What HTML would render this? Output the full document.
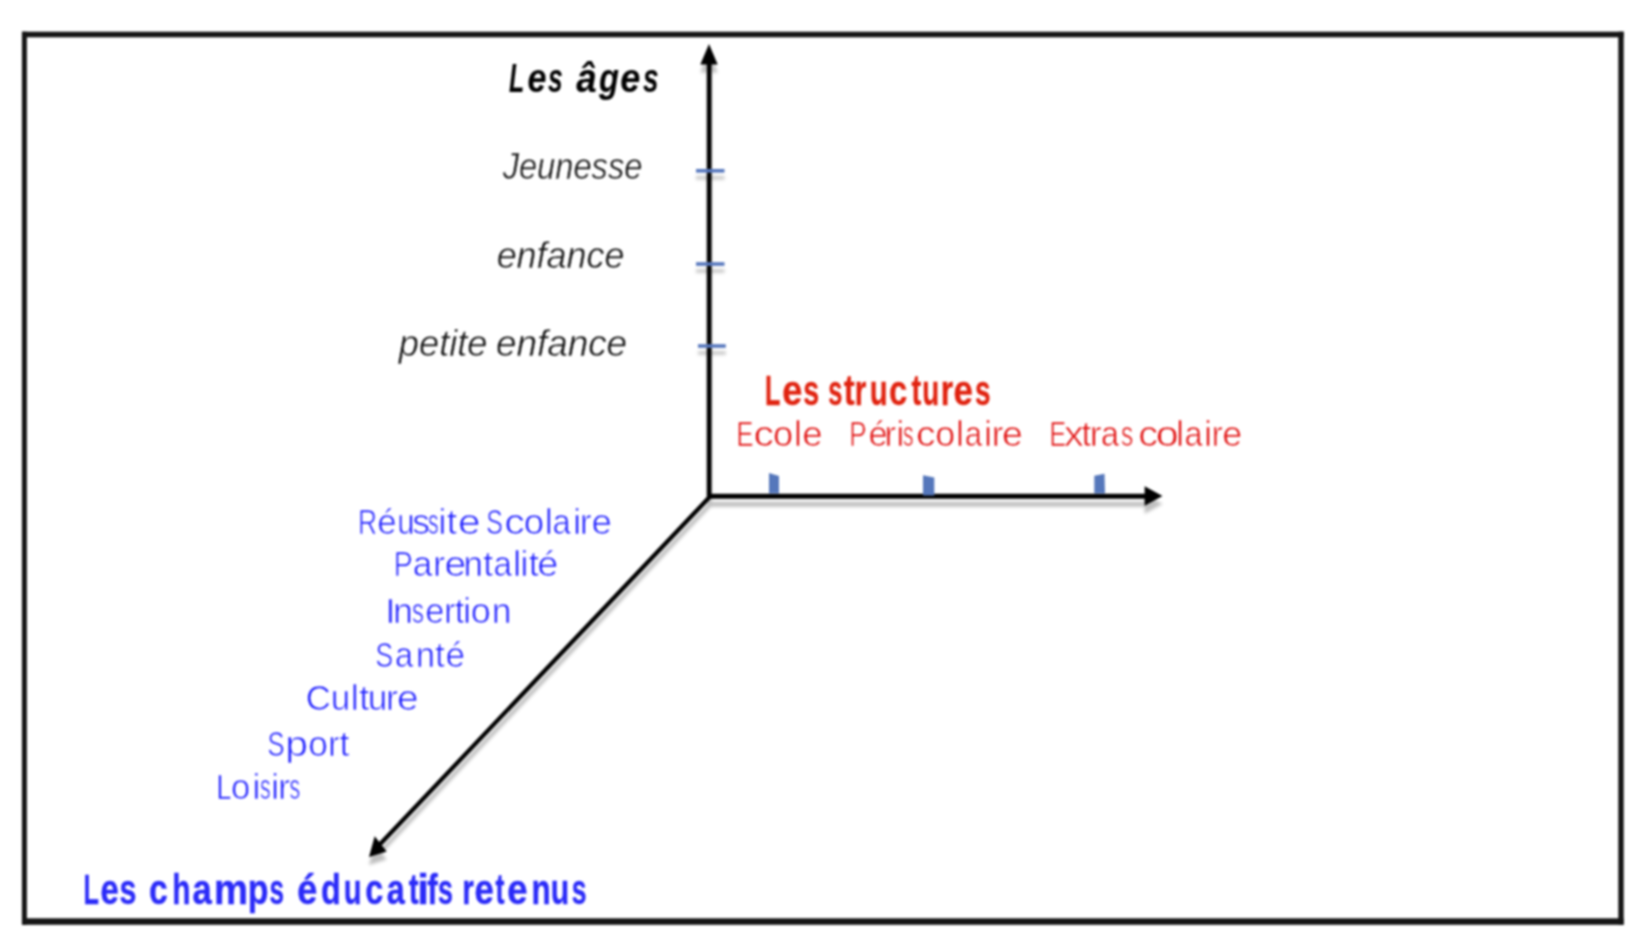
<!DOCTYPE html>
<html>
<head>
<meta charset="utf-8">
<style>
html,body{margin:0;padding:0;background:#fff;}
body{width:1630px;height:938px;overflow:hidden;position:relative;font-family:"Liberation Sans",sans-serif;}
svg{display:block;position:absolute;left:0;top:0;}
#shapes{filter:blur(1px);}
#texts{filter:blur(1px);}
text{font-family:"Liberation Sans",sans-serif;}
</style>
</head>
<body>
<svg id="shapes" width="1630" height="938" viewBox="0 0 1630 938">

<defs>
<filter id="sh" x="-20%" y="-20%" width="140%" height="160%">
<feGaussianBlur in="SourceAlpha" stdDeviation="1.8" result="b"/>
<feOffset in="b" dx="0" dy="8" result="o"/>
<feFlood flood-color="#000" flood-opacity="0.25"/>
<feComposite in2="o" operator="in" result="s"/>
<feMerge><feMergeNode in="s"/><feMergeNode in="SourceGraphic"/></feMerge>
</filter>
</defs>
<g fill="#151515">
<rect x="22" y="31.7" width="1601.7" height="5.6"/>
<rect x="22" y="918.3" width="1601.7" height="6.5"/>
<rect x="21.9" y="31.7" width="5" height="893"/>
<rect x="1618.3" y="31.7" width="5.4" height="893"/>
</g>
<g filter="url(#sh)">
<line x1="709.2" y1="496" x2="709.2" y2="62" stroke="#000" stroke-width="4.7"/>
<polygon points="709,44 700.3,64.5 717.7,64.5" fill="#000"/>
<line x1="707" y1="496.3" x2="1146" y2="496.3" stroke="#000" stroke-width="5"/>
<polygon points="1162.5,496 1144.6,486.3 1144.6,505.7" fill="#000"/>
<line x1="710.3" y1="496.3" x2="380.2" y2="844" stroke="#000" stroke-width="4.2"/>
<polygon points="369,857 374.7,836.3 386.7,851.6" fill="#000"/>
</g>
<filter id="sh2" x="-20%" y="-100%" width="140%" height="400%">
<feGaussianBlur in="SourceAlpha" stdDeviation="1.5" result="b"/>
<feOffset in="b" dx="0" dy="7" result="o"/>
<feFlood flood-color="#000" flood-opacity="0.22"/>
<feComposite in2="o" operator="in" result="s"/>
<feMerge><feMergeNode in="s"/><feMergeNode in="SourceGraphic"/></feMerge>
</filter>
<g filter="url(#sh2)" stroke="#5677bd" stroke-width="3.6">
<line x1="696" y1="170.8" x2="724.5" y2="170.8"/>
<line x1="696" y1="264" x2="724.5" y2="264"/>
<line x1="698" y1="346" x2="725.8" y2="346"/>
</g>
<g fill="#5577bb">
<polygon points="769,473.1 779,476 779,493.5 769,493.5"/>
<polygon points="923,475.3 934.3,477.5 934.3,495.5 923,495.5"/>
<polygon points="1094.3,475.7 1104.5,473.8 1105,493.5 1094.3,493.5"/>
</g>

</svg>
<svg id="texts" width="1630" height="938" viewBox="0 0 1630 938">
<g font-size="41" font-weight="bold" font-style="italic" fill="#000" stroke="#000" stroke-width="0.1">
<text x="509.01" y="91.50" textLength="15.26" lengthAdjust="spacingAndGlyphs">L</text>
<text x="527.60" y="91.50" textLength="18.93" lengthAdjust="spacingAndGlyphs">e</text>
<text x="547.94" y="91.50" textLength="14.70" lengthAdjust="spacingAndGlyphs">s</text>
<text x="576.24" y="91.50" textLength="20.43" lengthAdjust="spacingAndGlyphs">â</text>
<text x="599.03" y="91.50" textLength="19.95" lengthAdjust="spacingAndGlyphs">g</text>
<text x="620.13" y="91.50" textLength="20.03" lengthAdjust="spacingAndGlyphs">e</text>
<text x="642.88" y="91.50" textLength="15.58" lengthAdjust="spacingAndGlyphs">s</text>
</g>
<g font-size="36" font-weight="normal" font-style="italic" fill="#111" stroke="#fff" stroke-width="0.5">
<text x="502.64" y="179.30" textLength="139.80" lengthAdjust="spacingAndGlyphs">Jeunesse</text>
<text x="496.65" y="267.50" textLength="127.70" lengthAdjust="spacingAndGlyphs">enfance</text>
<text x="398.83" y="356.00" textLength="88.72" lengthAdjust="spacingAndGlyphs">petite</text>
<text x="495.93" y="356.00" textLength="131.18" lengthAdjust="spacingAndGlyphs">enfance</text>
</g>
<g font-size="42" font-weight="bold" fill="#e0220f" stroke="#e0220f" stroke-width="0.3">
<text x="765.11" y="405.00" textLength="15.39" lengthAdjust="spacingAndGlyphs">L</text>
<text x="782.31" y="405.00" textLength="20.05" lengthAdjust="spacingAndGlyphs">e</text>
<text x="803.24" y="405.00" textLength="15.97" lengthAdjust="spacingAndGlyphs">s</text>
<text x="828.36" y="405.00" textLength="14.15" lengthAdjust="spacingAndGlyphs">s</text>
<text x="843.83" y="405.00" textLength="10.95" lengthAdjust="spacingAndGlyphs">t</text>
<text x="854.66" y="405.00" textLength="11.57" lengthAdjust="spacingAndGlyphs">r</text>
<text x="869.77" y="405.00" textLength="17.94" lengthAdjust="spacingAndGlyphs">u</text>
<text x="889.12" y="405.00" textLength="18.29" lengthAdjust="spacingAndGlyphs">c</text>
<text x="911.51" y="405.00" textLength="9.79" lengthAdjust="spacingAndGlyphs">t</text>
<text x="922.21" y="405.00" textLength="16.94" lengthAdjust="spacingAndGlyphs">u</text>
<text x="940.65" y="405.00" textLength="12.39" lengthAdjust="spacingAndGlyphs">r</text>
<text x="953.47" y="405.00" textLength="19.41" lengthAdjust="spacingAndGlyphs">e</text>
<text x="974.99" y="405.00" textLength="15.59" lengthAdjust="spacingAndGlyphs">s</text>
</g>
<g font-size="35" font-weight="normal" fill="#e00c0c" stroke="#fff" stroke-width="0.65">
<text x="736.54" y="445.70" textLength="16.95" lengthAdjust="spacingAndGlyphs">E</text>
<text x="753.53" y="445.70" textLength="20.47" lengthAdjust="spacingAndGlyphs">c</text>
<text x="773.10" y="445.70" textLength="20.12" lengthAdjust="spacingAndGlyphs">o</text>
<text x="793.94" y="445.70" textLength="7.78" lengthAdjust="spacingAndGlyphs">l</text>
<text x="802.15" y="445.70" textLength="20.41" lengthAdjust="spacingAndGlyphs">e</text>
<text x="849.22" y="445.90" textLength="17.39" lengthAdjust="spacingAndGlyphs">P</text>
<text x="868.51" y="445.90" textLength="19.23" lengthAdjust="spacingAndGlyphs">é</text>
<text x="884.60" y="445.90" textLength="11.66" lengthAdjust="spacingAndGlyphs">r</text>
<text x="896.43" y="445.90" textLength="7.78" lengthAdjust="spacingAndGlyphs">i</text>
<text x="903.03" y="445.90" textLength="10.50" lengthAdjust="spacingAndGlyphs">s</text>
<text x="915.90" y="445.90" textLength="19.59" lengthAdjust="spacingAndGlyphs">c</text>
<text x="935.33" y="445.90" textLength="19.90" lengthAdjust="spacingAndGlyphs">o</text>
<text x="955.92" y="445.90" textLength="7.78" lengthAdjust="spacingAndGlyphs">l</text>
<text x="964.84" y="445.90" textLength="17.38" lengthAdjust="spacingAndGlyphs">a</text>
<text x="984.17" y="445.90" textLength="7.78" lengthAdjust="spacingAndGlyphs">i</text>
<text x="991.74" y="445.90" textLength="11.66" lengthAdjust="spacingAndGlyphs">r</text>
<text x="1002.03" y="445.90" textLength="20.86" lengthAdjust="spacingAndGlyphs">e</text>
<text x="1049.44" y="445.90" textLength="16.76" lengthAdjust="spacingAndGlyphs">E</text>
<text x="1064.09" y="445.90" textLength="19.69" lengthAdjust="spacingAndGlyphs">x</text>
<text x="1081.52" y="445.90" textLength="9.61" lengthAdjust="spacingAndGlyphs">t</text>
<text x="1089.65" y="445.90" textLength="11.80" lengthAdjust="spacingAndGlyphs">r</text>
<text x="1100.94" y="445.90" textLength="17.99" lengthAdjust="spacingAndGlyphs">a</text>
<text x="1121.05" y="445.90" textLength="12.20" lengthAdjust="spacingAndGlyphs">s</text>
<text x="1138.16" y="445.90" textLength="19.88" lengthAdjust="spacingAndGlyphs">c</text>
<text x="1155.74" y="445.90" textLength="22.94" lengthAdjust="spacingAndGlyphs">o</text>
<text x="1176.37" y="445.90" textLength="7.78" lengthAdjust="spacingAndGlyphs">l</text>
<text x="1184.47" y="445.90" textLength="18.07" lengthAdjust="spacingAndGlyphs">a</text>
<text x="1204.32" y="445.90" textLength="7.78" lengthAdjust="spacingAndGlyphs">i</text>
<text x="1211.63" y="445.90" textLength="10.93" lengthAdjust="spacingAndGlyphs">r</text>
<text x="1222.23" y="445.90" textLength="19.96" lengthAdjust="spacingAndGlyphs">e</text>
</g>
<g font-size="35.5" font-weight="normal" fill="#1c1cff" stroke="#fff" stroke-width="0.7">
<text x="357.92" y="534.40" textLength="19.03" lengthAdjust="spacingAndGlyphs">R</text>
<text x="377.21" y="534.40" textLength="19.42" lengthAdjust="spacingAndGlyphs">é</text>
<text x="397.17" y="534.40" textLength="17.18" lengthAdjust="spacingAndGlyphs">u</text>
<text x="412.16" y="534.40" textLength="17.75" lengthAdjust="spacingAndGlyphs">s</text>
<text x="427.95" y="534.40" textLength="10.65" lengthAdjust="spacingAndGlyphs">s</text>
<text x="438.52" y="534.40" textLength="7.89" lengthAdjust="spacingAndGlyphs">i</text>
<text x="446.79" y="534.40" textLength="10.25" lengthAdjust="spacingAndGlyphs">t</text>
<text x="457.91" y="534.40" textLength="22.64" lengthAdjust="spacingAndGlyphs">e</text>
<text x="486.18" y="534.40" textLength="16.61" lengthAdjust="spacingAndGlyphs">S</text>
<text x="504.23" y="534.40" textLength="20.61" lengthAdjust="spacingAndGlyphs">c</text>
<text x="523.87" y="534.40" textLength="20.38" lengthAdjust="spacingAndGlyphs">o</text>
<text x="544.82" y="534.40" textLength="7.89" lengthAdjust="spacingAndGlyphs">l</text>
<text x="552.57" y="534.40" textLength="18.21" lengthAdjust="spacingAndGlyphs">a</text>
<text x="573.13" y="534.40" textLength="7.89" lengthAdjust="spacingAndGlyphs">i</text>
<text x="579.69" y="534.40" textLength="11.82" lengthAdjust="spacingAndGlyphs">r</text>
<text x="591.59" y="534.40" textLength="20.47" lengthAdjust="spacingAndGlyphs">e</text>
<text x="393.68" y="576.40" textLength="19.01" lengthAdjust="spacingAndGlyphs">P</text>
<text x="412.87" y="576.40" textLength="19.62" lengthAdjust="spacingAndGlyphs">a</text>
<text x="433.33" y="576.40" textLength="11.68" lengthAdjust="spacingAndGlyphs">r</text>
<text x="444.52" y="576.40" textLength="21.78" lengthAdjust="spacingAndGlyphs">e</text>
<text x="463.55" y="576.40" textLength="19.53" lengthAdjust="spacingAndGlyphs">n</text>
<text x="483.34" y="576.40" textLength="9.83" lengthAdjust="spacingAndGlyphs">t</text>
<text x="493.56" y="576.40" textLength="18.40" lengthAdjust="spacingAndGlyphs">a</text>
<text x="513.33" y="576.40" textLength="7.89" lengthAdjust="spacingAndGlyphs">l</text>
<text x="520.42" y="576.40" textLength="7.89" lengthAdjust="spacingAndGlyphs">i</text>
<text x="528.65" y="576.40" textLength="10.12" lengthAdjust="spacingAndGlyphs">t</text>
<text x="537.38" y="576.40" textLength="21.14" lengthAdjust="spacingAndGlyphs">é</text>
<text x="385.53" y="622.80" textLength="9.88" lengthAdjust="spacingAndGlyphs">I</text>
<text x="393.27" y="622.80" textLength="19.61" lengthAdjust="spacingAndGlyphs">n</text>
<text x="411.93" y="622.80" textLength="11.96" lengthAdjust="spacingAndGlyphs">s</text>
<text x="425.23" y="622.80" textLength="19.17" lengthAdjust="spacingAndGlyphs">e</text>
<text x="444.19" y="622.80" textLength="11.06" lengthAdjust="spacingAndGlyphs">r</text>
<text x="454.95" y="622.80" textLength="9.16" lengthAdjust="spacingAndGlyphs">t</text>
<text x="463.27" y="622.80" textLength="7.89" lengthAdjust="spacingAndGlyphs">i</text>
<text x="470.86" y="622.80" textLength="20.03" lengthAdjust="spacingAndGlyphs">o</text>
<text x="491.76" y="622.80" textLength="19.70" lengthAdjust="spacingAndGlyphs">n</text>
<text x="375.53" y="666.50" textLength="17.66" lengthAdjust="spacingAndGlyphs">S</text>
<text x="394.91" y="666.50" textLength="18.16" lengthAdjust="spacingAndGlyphs">a</text>
<text x="415.74" y="666.50" textLength="19.41" lengthAdjust="spacingAndGlyphs">n</text>
<text x="435.18" y="666.50" textLength="9.45" lengthAdjust="spacingAndGlyphs">t</text>
<text x="445.47" y="666.50" textLength="19.61" lengthAdjust="spacingAndGlyphs">é</text>
<text x="305.67" y="709.60" textLength="25.06" lengthAdjust="spacingAndGlyphs">C</text>
<text x="330.80" y="709.60" textLength="19.53" lengthAdjust="spacingAndGlyphs">u</text>
<text x="350.70" y="709.60" textLength="7.89" lengthAdjust="spacingAndGlyphs">l</text>
<text x="359.21" y="709.60" textLength="10.02" lengthAdjust="spacingAndGlyphs">t</text>
<text x="367.84" y="709.60" textLength="19.60" lengthAdjust="spacingAndGlyphs">u</text>
<text x="385.96" y="709.60" textLength="11.83" lengthAdjust="spacingAndGlyphs">r</text>
<text x="397.10" y="709.60" textLength="21.62" lengthAdjust="spacingAndGlyphs">e</text>
<text x="267.60" y="755.70" textLength="17.05" lengthAdjust="spacingAndGlyphs">S</text>
<text x="285.38" y="755.70" textLength="22.74" lengthAdjust="spacingAndGlyphs">p</text>
<text x="308.32" y="755.70" textLength="19.59" lengthAdjust="spacingAndGlyphs">o</text>
<text x="328.32" y="755.70" textLength="11.06" lengthAdjust="spacingAndGlyphs">r</text>
<text x="339.41" y="755.70" textLength="9.88" lengthAdjust="spacingAndGlyphs">t</text>
<text x="216.60" y="798.90" textLength="15.07" lengthAdjust="spacingAndGlyphs">L</text>
<text x="231.05" y="798.90" textLength="19.23" lengthAdjust="spacingAndGlyphs">o</text>
<text x="252.42" y="798.90" textLength="7.89" lengthAdjust="spacingAndGlyphs">i</text>
<text x="260.09" y="798.90" textLength="10.65" lengthAdjust="spacingAndGlyphs">s</text>
<text x="271.37" y="798.90" textLength="7.89" lengthAdjust="spacingAndGlyphs">i</text>
<text x="278.23" y="798.90" textLength="11.79" lengthAdjust="spacingAndGlyphs">r</text>
<text x="289.39" y="798.90" textLength="10.65" lengthAdjust="spacingAndGlyphs">s</text>
</g>
<g font-size="42" font-weight="bold" fill="#2a2af8" stroke="#2a2af8" stroke-width="0.4">
<text x="83.51" y="904.20" textLength="15.39" lengthAdjust="spacingAndGlyphs">L</text>
<text x="100.47" y="904.20" textLength="18.21" lengthAdjust="spacingAndGlyphs">e</text>
<text x="119.39" y="904.20" textLength="16.91" lengthAdjust="spacingAndGlyphs">s</text>
<text x="148.96" y="904.20" textLength="18.75" lengthAdjust="spacingAndGlyphs">c</text>
<text x="172.33" y="904.20" textLength="18.29" lengthAdjust="spacingAndGlyphs">h</text>
<text x="192.61" y="904.20" textLength="19.26" lengthAdjust="spacingAndGlyphs">a</text>
<text x="213.96" y="904.20" textLength="34.09" lengthAdjust="spacingAndGlyphs">m</text>
<text x="247.83" y="904.20" textLength="20.75" lengthAdjust="spacingAndGlyphs">p</text>
<text x="269.47" y="904.20" textLength="14.52" lengthAdjust="spacingAndGlyphs">s</text>
<text x="297.16" y="904.20" textLength="20.05" lengthAdjust="spacingAndGlyphs">é</text>
<text x="321.05" y="904.20" textLength="19.80" lengthAdjust="spacingAndGlyphs">d</text>
<text x="343.69" y="904.20" textLength="17.82" lengthAdjust="spacingAndGlyphs">u</text>
<text x="365.32" y="904.20" textLength="18.02" lengthAdjust="spacingAndGlyphs">c</text>
<text x="386.68" y="904.20" textLength="18.02" lengthAdjust="spacingAndGlyphs">a</text>
<text x="408.68" y="904.20" textLength="9.84" lengthAdjust="spacingAndGlyphs">t</text>
<text x="417.16" y="904.20" textLength="11.67" lengthAdjust="spacingAndGlyphs">i</text>
<text x="427.15" y="904.20" textLength="10.54" lengthAdjust="spacingAndGlyphs">f</text>
<text x="438.07" y="904.20" textLength="14.92" lengthAdjust="spacingAndGlyphs">s</text>
<text x="462.22" y="904.20" textLength="11.58" lengthAdjust="spacingAndGlyphs">r</text>
<text x="474.46" y="904.20" textLength="19.30" lengthAdjust="spacingAndGlyphs">e</text>
<text x="495.56" y="904.20" textLength="8.99" lengthAdjust="spacingAndGlyphs">t</text>
<text x="507.14" y="904.20" textLength="20.25" lengthAdjust="spacingAndGlyphs">e</text>
<text x="531.49" y="904.20" textLength="19.18" lengthAdjust="spacingAndGlyphs">n</text>
<text x="550.76" y="904.20" textLength="18.40" lengthAdjust="spacingAndGlyphs">u</text>
<text x="571.85" y="904.20" textLength="14.75" lengthAdjust="spacingAndGlyphs">s</text>
</g>
</svg>
</body>
</html>
